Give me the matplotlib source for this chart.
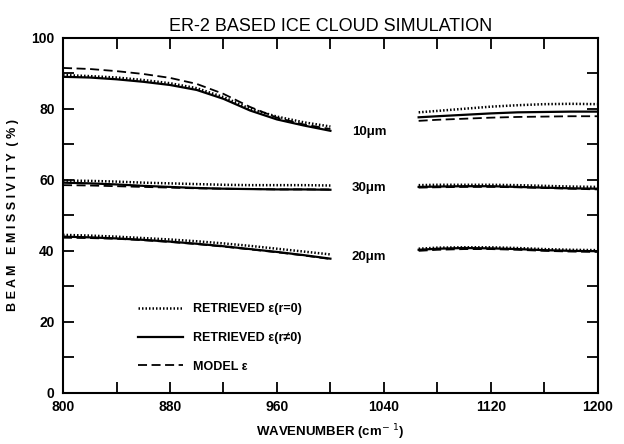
import numpy as np
import matplotlib
matplotlib.use("Agg")
import matplotlib.pyplot as plt
from matplotlib.ticker import MultipleLocator

plt.rcParams['font.family'] = ['Liberation Sans', 'DejaVu Sans']

# wavenumber grids for the two spectral windows
wn_lo = [800, 820, 840, 860, 880, 900, 920, 940, 960, 980, 1000]
wn_hi = [1066, 1080, 1100, 1120, 1140, 1160, 1180, 1200]

# 10 um particles
r0_10_lo = [89.5, 89.2, 88.8, 88.1, 87.2, 85.8, 83.3, 80.0, 77.8, 76.2, 75.0]
rn_10_lo = [89.0, 88.8, 88.3, 87.6, 86.7, 85.3, 82.8, 79.5, 77.0, 75.3, 73.8]
md_10_lo = [91.5, 91.2, 90.6, 89.8, 88.7, 87.0, 84.2, 80.5, 77.5, 75.6, 74.3]
r0_10_hi = [79.0, 79.4, 80.0, 80.6, 81.0, 81.3, 81.4, 81.3]
rn_10_hi = [77.6, 77.9, 78.3, 78.7, 79.0, 79.1, 79.2, 79.2]
md_10_hi = [76.6, 76.9, 77.2, 77.5, 77.7, 77.8, 77.9, 77.9]

# 30 um particles
r0_30_lo = [59.8, 59.7, 59.5, 59.2, 59.0, 58.8, 58.6, 58.5, 58.5, 58.5, 58.4]
rn_30_lo = [59.2, 59.0, 58.7, 58.3, 58.0, 57.7, 57.5, 57.4, 57.3, 57.3, 57.2]
md_30_lo = [58.5, 58.4, 58.2, 58.0, 57.8, 57.6, 57.5, 57.4, 57.3, 57.3, 57.3]
r0_30_hi = [58.5, 58.6, 58.6, 58.6, 58.5, 58.3, 58.1, 58.0]
rn_30_hi = [58.0, 58.1, 58.2, 58.2, 58.0, 57.8, 57.6, 57.5]
md_30_hi = [57.8, 57.9, 58.0, 58.0, 57.9, 57.7, 57.5, 57.3]

# 20 um particles
r0_20_lo = [44.5, 44.3, 44.0, 43.6, 43.2, 42.7, 42.1, 41.4, 40.6, 39.8, 39.0]
rn_20_lo = [44.0, 43.8, 43.5, 43.1, 42.6, 42.0, 41.3, 40.5, 39.7, 38.8, 37.8]
md_20_lo = [43.7, 43.6, 43.4, 43.0, 42.5, 41.9, 41.2, 40.4, 39.6, 38.7, 37.7]
r0_20_hi = [40.6, 40.9, 41.0, 41.0, 40.8, 40.5, 40.3, 40.2]
rn_20_hi = [40.3, 40.6, 40.8, 40.7, 40.5, 40.2, 40.0, 39.9]
md_20_hi = [40.0, 40.3, 40.5, 40.5, 40.3, 40.0, 39.8, 39.7]

size_labels = ["10\u03bcm", "30\u03bcm", "20\u03bcm"]
size_label_y = [73.5, 57.7, 38.3]

fig = plt.figure(figsize=(6.24, 4.44), dpi=100)
ax = fig.add_axes([0.101, 0.115, 0.857, 0.8])

dot = dict(color='black', lw=1.8, linestyle=(0, (0.6, 0.8)))
sol = dict(color='black', lw=1.6, linestyle='-')
das = dict(color='black', lw=1.3, linestyle=(0, (5, 2.5)))

groups = [
    (r0_10_lo, rn_10_lo, md_10_lo, r0_10_hi, rn_10_hi, md_10_hi),
    (r0_30_lo, rn_30_lo, md_30_lo, r0_30_hi, rn_30_hi, md_30_hi),
    (r0_20_lo, rn_20_lo, md_20_lo, r0_20_hi, rn_20_hi, md_20_hi),
]
for i, (a, b, c, d, e, f) in enumerate(groups):
    l1, = ax.plot(wn_lo, a, **dot)
    l2, = ax.plot(wn_lo, b, **sol)
    l3, = ax.plot(wn_lo, c, **das)
    ax.plot(wn_hi, d, **dot)
    ax.plot(wn_hi, e, **sol)
    ax.plot(wn_hi, f, **das)

for lab, yv in zip(size_labels, size_label_y):
    ax.text(1016, yv, lab, fontsize=9.5, fontweight='bold', va='center', ha='left')

ax.set_xlim(800, 1200)
ax.set_ylim(0, 100)
ax.xaxis.set_major_locator(MultipleLocator(80))
ax.xaxis.set_minor_locator(MultipleLocator(40))
ax.yaxis.set_major_locator(MultipleLocator(20))
ax.yaxis.set_minor_locator(MultipleLocator(10))
ax.tick_params(which='both', direction='in', top=True, right=True,
               length=8, width=1.3)
ax.tick_params(axis='x', labelsize=10, pad=5)
ax.tick_params(axis='y', labelsize=10, pad=6)
for t in ax.get_xticklabels() + ax.get_yticklabels():
    t.set_fontweight('bold')
for s in ax.spines.values():
    s.set_linewidth(1.5)

ax.set_title("ER-2 BASED ICE CLOUD SIMULATION", fontsize=13, pad=5)
ax.set_ylabel("B E A M   E M I S S I V I T Y  ( % )", fontsize=9,
              fontweight='bold', labelpad=9)
ax.set_xlabel("WAVENUMBER (cm$^{-\ 1}$)", fontsize=9.5, fontweight='bold', labelpad=6)

leg = ax.legend([l1, l2, l3],
                ["RETRIEVED \u03b5(r=0)", "RETRIEVED \u03b5(r\u22600)", "MODEL \u03b5"],
                frameon=False, loc='lower left', bbox_to_anchor=(0.12, 0.025),
                handlelength=3.6, labelspacing=1.35, fontsize=9)
for t in leg.get_texts():
    t.set_fontweight('bold')

fig.savefig("out.png", dpi=100)
